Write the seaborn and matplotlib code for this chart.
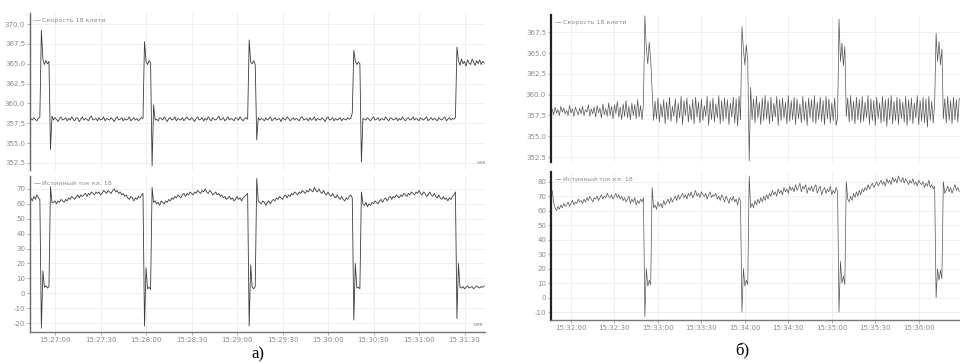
"""
Two oscillogram panels (а, б): stand 18 speed and true current vs time.
Saves out.png (960x363).
"""

import matplotlib
matplotlib.use("Agg")
import matplotlib.pyplot as plt
import matplotlib.dates as mdates
import numpy as np
import pandas as pd
import seaborn as sns

# ─────────────────────────────────────────────
# DATA  (1 s samples)
# ─────────────────────────────────────────────
START_A = "2020-01-01 15:26:44"
START_B = "2020-01-01 15:31:47"

# --- panel а, speed of stand 18 ---
speed_a_head = [358.1, 357.9, 358.2, 358.0, 357.8, 358.1, 358.3]
speed_a_ev1 = [369.2, 365.6, 364.9, 365.4, 365.0, 365.3, 354.2, 358.4]
speed_a_seg1 = [357.9, 358.2, 358.0, 357.7, 358.1, 358.3, 357.9, 358.0, 358.2, 357.8,
                358.1, 357.9, 358.3, 358.0, 357.8, 358.2, 358.1, 357.7, 358.0, 358.3,
                357.9, 358.1, 358.0, 357.8, 358.2, 358.4, 357.9, 358.0, 358.1, 357.8,
                358.2, 357.9, 358.0, 358.3, 357.8, 358.1, 358.0, 357.9, 358.2, 358.0,
                357.7, 358.1, 358.3, 357.9, 358.0, 358.2, 357.8, 358.1, 357.9, 358.0,
                358.3, 357.8, 358.0, 358.2, 357.9, 358.1, 357.8, 358.0, 358.2, 358.1]
speed_a_ev2 = [367.8, 365.3, 364.9, 365.4, 365.1, 352.1, 359.8, 357.9]
speed_a_seg2 = [358.0, 357.8, 358.2, 358.1, 357.9, 358.3, 358.0, 357.7, 358.1, 358.2,
                357.9, 358.0, 358.3, 357.8, 358.1, 358.0, 357.9, 358.2, 357.8, 358.1,
                358.3, 358.0, 357.9, 358.2, 358.0, 357.7, 358.1, 358.3, 357.9, 358.0,
                358.2, 357.8, 358.1, 357.9, 358.3, 358.0, 357.8, 358.2, 358.0, 357.9,
                358.1, 358.4, 357.9, 358.0, 358.2, 357.8, 358.0, 358.3, 357.9, 358.1,
                358.0, 357.8, 358.2, 358.1, 357.9, 358.3, 358.0, 357.8, 358.1, 358.2,
                358.0]
speed_a_ev3 = [368.0, 365.2, 365.0, 365.4, 364.9, 355.4, 358.2]
speed_a_seg3 = [357.9, 358.1, 358.0, 357.8, 358.2, 357.9, 358.1, 358.3, 357.8, 358.0,
                358.2, 357.9, 358.0, 358.1, 357.7, 358.2, 358.0, 357.9, 358.3, 358.1,
                357.8, 358.0, 358.2, 357.9, 358.1, 358.0, 357.8, 358.2, 358.3, 357.9,
                358.0, 358.1, 357.8, 358.2, 357.9, 358.0, 358.3, 357.8, 358.1, 358.0,
                357.9, 358.2, 358.0, 357.7, 358.1, 358.3, 357.9, 358.0, 358.2, 357.8,
                358.1, 357.9, 358.0, 358.2, 357.8, 358.1, 358.0, 357.9, 358.2, 358.0,
                358.1]
speed_a_ev4 = [358.8, 366.7, 365.3, 364.9, 365.2, 365.0, 352.6, 358.1]
speed_a_seg4 = [358.0, 357.9, 358.2, 358.0, 357.8, 358.1, 358.3, 357.9, 358.0, 358.2,
                357.8, 358.1, 358.0, 357.9, 358.3, 358.0, 357.8, 358.2, 358.1, 357.9,
                358.0, 358.2, 357.8, 358.1, 357.9, 358.3, 358.0, 357.8, 358.1, 358.2,
                357.9, 358.0, 358.3, 357.9, 358.1, 358.0, 357.8, 358.2, 358.0, 357.9,
                358.1, 358.3, 357.8, 358.0, 358.2, 357.9, 358.1, 358.0, 357.8, 358.2,
                358.0, 357.9, 358.1, 358.3, 357.8, 358.0, 358.2, 357.9, 358.1, 358.0,
                358.2]
speed_a_tail = [367.1, 365.4, 364.8, 365.6, 365.0, 365.3, 364.7, 365.5, 365.1, 364.9,
                365.6, 365.2, 364.8, 365.4, 365.0, 365.5, 364.9, 365.3, 365.1]

# --- panel а, true current of stand 18 ---
cur_a_head = [64, 62, 65, 63, 66, 64, 63]
cur_a_ev1 = [-23.5, 15, 4, 5, 3.5, 4.5, 71.5, 61]
cur_a_seg1 = [61, 62, 60, 62, 61, 63, 62, 61, 63, 62,
              64, 63, 65, 64, 63, 65, 66, 64, 66, 65,
              66, 67, 65, 67, 66, 68, 67, 66, 68, 67,
              68, 66, 67, 69, 68, 67, 69, 68, 67, 69,
              70, 68, 69, 67, 68, 66, 67, 65, 66, 64,
              63, 65, 64, 62, 64, 63, 65, 64, 66, 67]
cur_a_ev2 = [-22, 17, 3, 4, 2.5, 71, 61, 62]
cur_a_seg2 = [60, 61, 59, 62, 61, 60, 62, 61, 63, 62,
              64, 63, 65, 64, 66, 65, 64, 66, 67, 65,
              67, 66, 68, 67, 66, 68, 67, 69, 68, 67,
              69, 68, 70, 68, 67, 69, 68, 66, 67, 68,
              66, 67, 65, 66, 64, 65, 63, 64, 65, 63,
              64, 62, 63, 65, 63, 64, 62, 64, 65, 66,
              67]
cur_a_ev3 = [-22, 19, 4, 3, 4.5, 77, 62]
cur_a_seg3 = [61, 60, 62, 61, 59, 61, 62, 60, 62, 63,
              62, 64, 63, 65, 64, 63, 65, 66, 64, 66,
              65, 67, 66, 68, 67, 66, 68, 67, 69, 68,
              67, 69, 68, 70, 69, 68, 71, 69, 68, 70,
              68, 67, 69, 67, 66, 68, 66, 65, 67, 65,
              64, 66, 64, 63, 65, 63, 62, 64, 63, 65,
              66]
cur_a_ev4 = [64, -18, 20, 3.5, 4, 3, 68, 60]
cur_a_seg4 = [59, 61, 58, 60, 59, 61, 60, 62, 61, 60,
              62, 63, 61, 63, 64, 62, 64, 65, 63, 65,
              64, 66, 65, 64, 66, 65, 67, 66, 65, 67,
              66, 68, 67, 66, 68, 67, 69, 67, 66, 68,
              67, 65, 66, 68, 66, 65, 67, 65, 64, 66,
              64, 63, 65, 63, 64, 62, 64, 63, 65, 66,
              68]
cur_a_tail = [-17, 20, 4, 3.5, 4.5, 3, 4, 5, 3.5, 4,
              4.5, 3, 4, 5, 4, 3.5, 4.5, 4, 5]

# --- panel б, speed of stand 18 ---
speed_b_seg0 = [358.3, 357.6, 358.5, 357.8, 358.2, 357.5, 358.6, 357.9, 358.4, 357.7,
                358.1, 357.5, 358.7, 357.8, 358.3, 357.4, 358.5, 358.0, 357.6, 358.4,
                357.7, 358.6, 357.5, 358.2, 357.9, 358.8, 357.4, 358.3, 357.7, 358.5,
                357.3, 358.7, 357.8, 358.4, 357.2, 358.9, 357.6, 358.3, 357.4, 359.0,
                357.5, 358.6, 357.1, 358.8, 357.7, 359.2, 357.3, 358.5, 357.0, 358.9,
                357.4, 359.3, 357.2, 358.6, 357.0, 359.0, 357.5, 358.8, 357.1, 359.4,
                357.3, 358.7, 357.0, 358.9]
speed_b_ev1 = [369.5, 365.6, 363.7, 366.3, 364.2, 360.6]
speed_b_seg1 = [356.9, 359.2, 357.1, 359.6, 356.7, 358.9, 357.3, 359.4, 356.5, 359.1,
                357.0, 359.7, 356.8, 358.6, 357.4, 359.5, 356.6, 359.0, 357.2, 359.8,
                356.4, 359.3, 357.5, 359.6, 356.7, 358.8, 357.0, 359.4, 356.5, 359.7,
                357.3, 359.1, 356.6, 359.5, 356.9, 358.7, 357.4, 359.8, 356.3, 359.2,
                357.0, 359.6, 356.7, 358.9, 357.2, 359.9, 356.5, 359.3, 356.8, 359.6,
                357.1, 359.4, 356.4, 359.0, 357.3, 359.7, 356.6, 359.5, 356.2, 359.8,
                357.0]
speed_b_ev2 = [368.2, 365.5, 363.6, 366.0, 364.0, 352.0]
speed_b_seg2 = [360.9, 357.0, 359.5, 356.6, 359.8, 357.2, 359.1, 356.4, 359.6, 356.9,
                359.9, 357.1, 359.3, 356.5, 359.7, 356.8, 359.0, 357.3, 359.8, 356.3,
                359.4, 356.9, 359.6, 357.2, 359.1, 356.5, 359.9, 356.8, 359.3, 357.0,
                359.7, 356.4, 359.5, 357.1, 358.9, 356.6, 359.8, 356.9, 359.2, 356.3,
                359.6, 357.2, 359.4, 356.7, 359.9, 356.5, 359.1, 357.0, 359.7, 356.8,
                359.3, 356.4, 359.8, 357.1, 359.5, 356.6, 359.0, 356.9, 359.6, 356.3,
                357.2]
speed_b_ev3 = [369.1, 364.0, 366.2, 363.5, 365.8]
speed_b_seg3 = [357.4, 359.6, 356.7, 359.9, 356.9, 359.2, 356.5, 359.7, 357.0, 359.4,
                356.6, 359.8, 356.8, 359.1, 357.2, 359.9, 356.4, 359.5, 356.9, 359.3,
                356.3, 359.7, 357.1, 359.0, 356.6, 359.8, 356.8, 359.4, 356.2, 359.6,
                357.0, 359.9, 356.5, 359.2, 356.9, 359.7, 356.4, 359.5, 357.1, 359.1,
                356.7, 359.8, 356.3, 359.4, 356.9, 359.6, 356.5, 359.0, 357.2, 359.9,
                356.4, 359.3, 356.8, 359.7, 356.6, 359.5, 356.1, 359.8, 356.9, 359.2,
                356.6, 358.9]
speed_b_ev4 = [367.4, 364.0, 366.4, 363.6, 365.5]
speed_b_seg4 = [357.1, 359.5, 356.6, 359.8, 356.9, 359.3, 356.5, 359.7, 357.0, 359.4,
                356.7, 359.6]

# --- panel б, true current of stand 18 ---
cur_b_seg0 = [74, 66, 62, 60, 63, 61, 64, 62, 65, 63,
              64, 66, 63, 65, 67, 64, 66, 65, 68, 66,
              67, 65, 68, 66, 69, 67, 70, 68, 66, 69,
              68, 70, 67, 69, 71, 68, 70, 69, 72, 70,
              69, 71, 68, 70, 72, 69, 71, 68, 70, 67,
              69, 66, 68, 70, 65, 68, 66, 69, 64, 67,
              65, 68, 66, 69]
cur_b_ev1 = [-13, 20, 8, 12, 9, 76, 62]
cur_b_seg1 = [64, 61, 66, 63, 65, 62, 67, 64, 66, 68,
              65, 69, 66, 68, 70, 67, 71, 68, 70, 72,
              69, 71, 68, 72, 70, 73, 69, 71, 74, 70,
              72, 69, 73, 71, 70, 72, 68, 71, 73, 69,
              71, 70, 72, 68, 70, 67, 71, 69, 66, 70,
              68, 65, 69, 67, 70, 66, 68, 64, 69, 67]
cur_b_ev2 = [-10, 20, 8, 12, 9, 84, 62]
cur_b_seg2 = [65, 62, 67, 64, 68, 65, 69, 66, 70, 67,
              71, 68, 72, 70, 74, 71, 73, 70, 75, 72,
              74, 71, 76, 73, 75, 72, 77, 74, 76, 73,
              78, 74, 76, 79, 73, 77, 75, 78, 72, 76,
              74, 77, 73, 76, 78, 72, 75, 77, 71, 74,
              76, 72, 75, 73, 77, 71, 74, 72, 76, 73]
cur_b_ev3 = [-10, 25, 10, 15, 9, 80, 68]
cur_b_seg3 = [66, 70, 67, 72, 69, 73, 70, 74, 71, 75,
              73, 76, 74, 78, 75, 77, 79, 76, 78, 80,
              77, 79, 81, 78, 80, 77, 82, 79, 81, 78,
              83, 80, 82, 79, 84, 81, 80, 83, 79, 82,
              80, 78, 81, 79, 82, 78, 80, 77, 81, 79,
              78, 80, 76, 79, 77, 81, 76, 78, 75, 77]
cur_b_ev4 = [0, 20, 12, 19, 13, 80, 72]
cur_b_seg4 = [74, 77, 73, 76, 72, 75, 78, 74, 76, 73]

# tick values
YTICKS_SPEED_A = [352.5, 355.0, 357.5, 360.0, 362.5, 365.0, 367.5, 370.0]
YTICKS_SPEED_B = [352.5, 355.0, 357.5, 360.0, 362.5, 365.0, 367.5]
YTICKS_CUR_A = [-20, -10, 0, 10, 20, 30, 40, 50, 60, 70]
YTICKS_CUR_B = [-10, 0, 10, 20, 30, 40, 50, 60, 70, 80]

SPEED_LABEL = "Скорость 18 клети"
CUR_LABEL = "Истинный ток кл. 18"

# ─────────────────────────────────────────────
# ASSEMBLE
# ─────────────────────────────────────────────
speed_a = (speed_a_head + speed_a_ev1 + speed_a_seg1 + speed_a_ev2 + speed_a_seg2
           + speed_a_ev3 + speed_a_seg3 + speed_a_ev4 + speed_a_seg4 + speed_a_tail)
cur_a = (cur_a_head + cur_a_ev1 + cur_a_seg1 + cur_a_ev2 + cur_a_seg2
         + cur_a_ev3 + cur_a_seg3 + cur_a_ev4 + cur_a_seg4 + cur_a_tail)
speed_b = (speed_b_seg0 + speed_b_ev1 + speed_b_seg1 + speed_b_ev2 + speed_b_seg2
           + speed_b_ev3 + speed_b_seg3 + speed_b_ev4 + speed_b_seg4)
cur_b = (cur_b_seg0 + cur_b_ev1 + cur_b_seg1 + cur_b_ev2 + cur_b_seg2
         + cur_b_ev3 + cur_b_seg3 + cur_b_ev4 + cur_b_seg4)

df_a = pd.DataFrame({"t": pd.date_range(START_A, periods=len(speed_a), freq="s"),
                     "speed": speed_a, "cur": cur_a[:len(speed_a)]})
df_b = pd.DataFrame({"t": pd.date_range(START_B, periods=len(speed_b), freq="s"),
                     "speed": speed_b, "cur": cur_b[:len(speed_b)]})

# ─────────────────────────────────────────────
# STYLE
# ─────────────────────────────────────────────
sns.set_theme(style="whitegrid")
plt.rcParams["font.family"] = ["Liberation Sans Narrow", "DejaVu Sans"]

fig = plt.figure(figsize=(9.6, 3.63), dpi=100)
W, H = 960.0, 363.0


def add_ax(x0, y0, x1, y1):
    return fig.add_axes([x0 / W, 1 - y1 / H, (x1 - x0) / W, (y1 - y0) / H])


ax_a1 = add_ax(30, 13, 485, 170)
ax_a2 = add_ax(30, 176, 485, 332)
ax_b1 = add_ax(551, 15, 960, 162)
ax_b2 = add_ax(551, 172, 960, 320)


def style(ax, yticks, ylim, xlim, fmt, spine_color, spine_w, bottom):
    ax.set_facecolor("white")
    ax.set_ylim(*ylim)
    ax.set_xlim(pd.Timestamp(xlim[0]), pd.Timestamp(xlim[1]))
    ax.set_yticks(yticks)
    ax.set_yticklabels([fmt.format(v) for v in yticks])
    ax.xaxis.set_major_locator(mdates.SecondLocator(bysecond=[0, 30]))
    ax.xaxis.set_major_formatter(mdates.DateFormatter("%H:%M:%S"))
    ax.grid(True, color="#ececec", linewidth=0.6)
    ax.tick_params(axis="both", labelsize=5.0, colors="#8a8a8a", length=2,
                   width=0.5, pad=1.5, left=True, bottom=bottom)
    for s in ("top", "right"):
        ax.spines[s].set_visible(False)
    ax.spines["left"].set_color(spine_color)
    ax.spines["left"].set_linewidth(spine_w)
    if bottom:
        ax.spines["bottom"].set_color("#777777")
        ax.spines["bottom"].set_linewidth(1.0)
    else:
        ax.spines["bottom"].set_visible(False)
        ax.set_xticklabels([])
    ax.set_xlabel("")
    ax.set_ylabel("")
    leg = ax.legend(loc="upper left", frameon=False, fontsize=4.6, handlelength=0.8,
                    handletextpad=0.4, borderaxespad=0.3, labelcolor="#8a8a8a")
    for ln in leg.get_lines():
        ln.set_color("#aaaaaa")
        ln.set_linewidth(0.6)


XLIM_A = ("2020-01-01 15:26:43.5", "2020-01-01 15:31:43.5")
XLIM_B = ("2020-01-01 15:31:46.2", "2020-01-01 15:36:28.5")

sns.lineplot(data=df_a, x="t", y="speed", ax=ax_a1, color="#3c3c3c", linewidth=0.6,
             label=SPEED_LABEL)
sns.lineplot(data=df_a, x="t", y="cur", ax=ax_a2, color="#3c3c3c", linewidth=0.6,
             label=CUR_LABEL)
sns.lineplot(data=df_b, x="t", y="speed", ax=ax_b1, color="#555555", linewidth=0.5,
             label=SPEED_LABEL)
sns.lineplot(data=df_b, x="t", y="cur", ax=ax_b2, color="#555555", linewidth=0.5,
             label=CUR_LABEL)

style(ax_a1, YTICKS_SPEED_A, (351.6, 371.4), XLIM_A, "{:.1f}", "#666666", 1.0, False)
style(ax_a2, YTICKS_CUR_A, (-26, 78.7), XLIM_A, "{:d}", "#666666", 1.0, True)
style(ax_b1, YTICKS_SPEED_B, (351.9, 369.6), XLIM_B, "{:.1f}", "#222222", 1.6, False)
style(ax_b2, YTICKS_CUR_B, (-15.4, 86.7), XLIM_B, "{:d}", "#222222", 1.6, True)

# unit labels on panel а
fig.text(482 / W, 1 - 163 / H, "сек", fontsize=4, color="#8a8a8a", ha="center", va="center")
fig.text(479 / W, 1 - 324 / H, "сек", fontsize=4, color="#8a8a8a", ha="center", va="center")

# panel captions
fig.text(258 / W, 1 - 354 / H, "а)", fontsize=12, family="Liberation Serif",
         ha="center", va="center", color="black")
fig.text(742 / W, 1 - 351 / H, "б)", fontsize=12, family="Liberation Serif",
         ha="center", va="center", color="black")

fig.savefig("out.png", dpi=100, facecolor="white")
